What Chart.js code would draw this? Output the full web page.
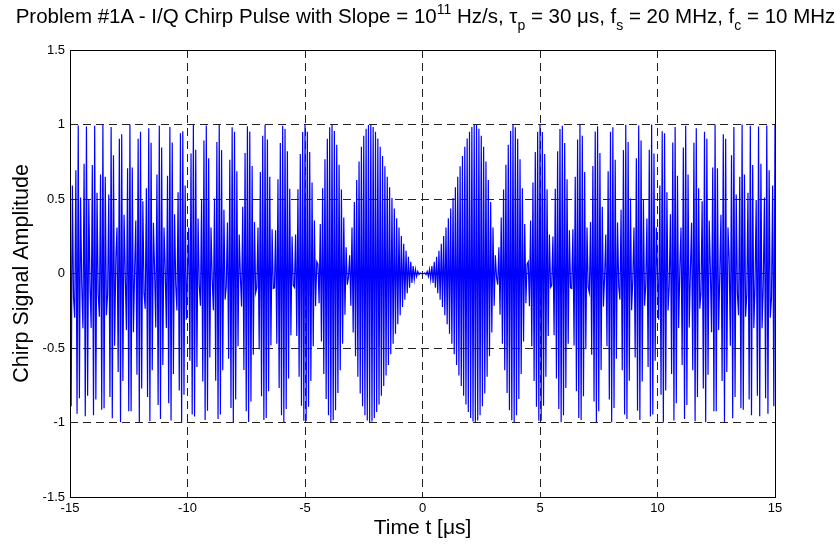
<!DOCTYPE html>
<html><head><meta charset="utf-8">
<script src="https://cdn.jsdelivr.net/npm/chart.js@4/dist/chart.umd.min.js"></script>
<style>
html,body{margin:0;padding:0;background:#fff;}
#wrap{position:relative;width:837px;height:544px;}
#title{position:absolute;left:0;top:4px;width:851px;text-align:center;font-family:'Liberation Sans',Arial,sans-serif;font-size:20.5px;line-height:24px;color:#000;white-space:nowrap;}
.sup{font-size:14px;position:relative;top:-9px;}
.sub{font-size:14px;position:relative;top:7px;}
</style></head><body>
<div id="wrap"><canvas id="c" width="837" height="544"></canvas>
<div id="title">Problem #1A - I/Q Chirp Pulse with Slope = 10<span class="sup">11</span> Hz/s, τ<span class="sub">p</span> = 30 μs, f<span class="sub">s</span> = 20 MHz, f<span class="sub">c</span> = 10 MHz</div>
</div>
<script>
// Chirp samples (I channel): 601 samples from -15 us to +15 us
const amplitude = [
1,-0.891,0.59,-0.163,-0.297,0.693,-0.942,0.993,-0.838,0.51,
-0.079,-0.367,0.737,-0.958,0.987,-0.82,0.493,-0.07,-0.365,0.728,
-0.951,0.992,-0.846,0.542,-0.138,-0.29,0.664,-0.915,1,-0.905,
0.649,-0.28,-0.138,0.53,-0.829,0.984,-0.972,0.794,-0.485,0.095,
0.309,-0.661,0.904,-0.999,0.934,-0.721,0.394,-0.007,-0.38,0.707,
-0.924,1,-0.925,0.712,-0.394,0.02,0.356,-0.68,0.904,-0.998,
0.951,-0.771,0.485,-0.132,-0.237,0.572,-0.829,0.974,-0.991,0.877,
-0.649,0.34,0.013,-0.362,0.664,-0.882,0.991,-0.977,0.846,-0.614,
0.309,0.031,-0.365,0.656,-0.87,0.984,-0.987,0.88,-0.675,0.398,
-0.079,-0.248,0.546,-0.786,0.942,-1,0.955,-0.813,0.59,-0.31,
0,0.308,-0.585,0.805,-0.947,1,-0.959,0.831,-0.628,0.369,
-0.079,-0.217,0.493,-0.724,0.893,-0.984,0.994,-0.921,0.773,-0.563,
0.309,-0.032,-0.246,0.503,-0.72,0.882,-0.977,0.998,-0.947,0.828,
-0.649,0.427,-0.175,-0.087,0.342,-0.572,0.763,-0.902,0.982,-0.998,
0.951,-0.845,0.687,-0.488,0.261,-0.02,-0.221,0.448,-0.647,0.809,
-0.924,0.988,-0.997,0.953,-0.859,0.721,-0.546,0.345,-0.129,-0.093,
0.309,-0.508,0.682,-0.823,0.925,-0.984,0.999,-0.97,0.9,-0.791,
0.649,-0.483,0.297,-0.101,-0.097,0.29,-0.471,0.632,-0.768,0.876,
-0.951,0.992,-0.998,0.97,-0.91,0.82,-0.705,0.568,-0.414,0.249,
-0.079,-0.093,0.261,-0.419,0.565,-0.693,0.802,-0.888,0.95,-0.988,
1,-0.988,0.952,-0.894,0.816,-0.721,0.61,-0.488,0.356,-0.219,
0.079,0.062,-0.2,0.332,-0.457,0.572,-0.675,0.766,-0.843,0.905,
-0.951,0.982,-0.998,0.998,-0.985,0.957,-0.917,0.864,-0.802,0.73,
-0.649,0.563,-0.471,0.375,-0.276,0.176,-0.075,-0.024,0.122,-0.217,
0.309,-0.396,0.479,-0.556,0.628,-0.693,0.752,-0.805,0.851,-0.891,
0.924,-0.951,0.972,-0.987,0.996,-1,0.999,-0.993,0.983,-0.969,
0.951,-0.93,0.906,-0.88,0.851,-0.82,0.788,-0.755,0.72,-0.685,
0.649,-0.614,0.578,-0.542,0.506,-0.471,0.437,-0.404,0.371,-0.34,
0.309,-0.28,0.252,-0.225,0.2,-0.176,0.153,-0.132,0.113,-0.095,
0.079,-0.064,0.05,-0.039,0.028,-0.02,0.013,-0.007,0.003,-0.001,
0,
-0.001,0.003,-0.007,0.013,-0.02,0.028,-0.039,0.05,-0.064,0.079,
-0.095,0.113,-0.132,0.153,-0.176,0.2,-0.225,0.252,-0.28,0.309,
-0.34,0.371,-0.404,0.437,-0.471,0.506,-0.542,0.578,-0.614,0.649,
-0.685,0.72,-0.755,0.788,-0.82,0.851,-0.88,0.906,-0.93,0.951,
-0.969,0.983,-0.993,0.999,-1,0.996,-0.987,0.972,-0.951,0.924,
-0.891,0.851,-0.805,0.752,-0.693,0.628,-0.556,0.479,-0.396,0.309,
-0.217,0.122,-0.024,-0.075,0.176,-0.276,0.375,-0.471,0.563,-0.649,
0.73,-0.802,0.864,-0.917,0.957,-0.985,0.998,-0.998,0.982,-0.951,
0.905,-0.843,0.766,-0.675,0.572,-0.457,0.332,-0.2,0.062,0.079,
-0.219,0.356,-0.488,0.61,-0.721,0.816,-0.894,0.952,-0.988,1,
-0.988,0.95,-0.888,0.802,-0.693,0.565,-0.419,0.261,-0.093,-0.079,
0.249,-0.414,0.568,-0.705,0.82,-0.91,0.97,-0.998,0.992,-0.951,
0.876,-0.768,0.632,-0.471,0.29,-0.097,-0.101,0.297,-0.483,0.649,
-0.791,0.9,-0.97,0.999,-0.984,0.925,-0.823,0.682,-0.508,0.309,
-0.093,-0.129,0.345,-0.546,0.721,-0.859,0.953,-0.997,0.988,-0.924,
0.809,-0.647,0.448,-0.221,-0.02,0.261,-0.488,0.687,-0.845,0.951,
-0.998,0.982,-0.902,0.763,-0.572,0.342,-0.087,-0.175,0.427,-0.649,
0.828,-0.947,0.998,-0.977,0.882,-0.72,0.503,-0.246,-0.032,0.309,
-0.563,0.773,-0.921,0.994,-0.984,0.893,-0.724,0.493,-0.217,-0.079,
0.369,-0.628,0.831,-0.959,1,-0.947,0.805,-0.585,0.308,0,
-0.31,0.59,-0.813,0.955,-1,0.942,-0.786,0.546,-0.248,-0.079,
0.398,-0.675,0.88,-0.987,0.984,-0.87,0.656,-0.365,0.031,0.309,
-0.614,0.846,-0.977,0.991,-0.882,0.664,-0.362,0.013,0.34,-0.649,
0.877,-0.991,0.974,-0.829,0.572,-0.237,-0.132,0.485,-0.771,0.951,
-0.998,0.904,-0.68,0.356,0.02,-0.394,0.712,-0.925,1,-0.924,
0.707,-0.38,-0.007,0.394,-0.721,0.934,-0.999,0.904,-0.661,0.309,
0.095,-0.485,0.794,-0.972,0.984,-0.829,0.53,-0.138,-0.28,0.649,
-0.905,1,-0.915,0.664,-0.29,-0.138,0.542,-0.846,0.992,-0.951,
0.728,-0.365,-0.07,0.493,-0.82,0.987,-0.958,0.737,-0.367,-0.079,
0.51,-0.838,0.993,-0.942,0.693,-0.297,-0.163,0.59,-0.891,1
];
const T_START_US = -15;          // pulse start time (us)
const SAMPLE_RATE_MHZ = 20;      // fs = 20 MHz -> 0.05 us per sample
const xTickValues = [-15, -10, -5, 0, 5, 10, 15];
const xTickLabels = ['-15', '-10', '-5', '0', '5', '10', '15'];
const yTickValues = [-1.5, -1, -0.5, 0, 0.5, 1, 1.5];
const yTickLabels = ['-1.5', '-1', '-0.5', '0', '0.5', '1', '1.5'];
const xAxisTitle = 'Time t [μs]';
const yAxisTitle = 'Chirp Signal Amplitude';

const points = amplitude.map((v, i) => ({ x: T_START_US + i / SAMPLE_RATE_MHZ, y: v }));

Chart.defaults.font.family = "'Liberation Sans', Arial, sans-serif";
Chart.defaults.color = '#000';

const boxPlugin = {
  id: 'box',
  afterDatasetsDraw(chart) {
    const { ctx, chartArea: a } = chart;
    ctx.save();
    ctx.strokeStyle = '#000';
    ctx.lineWidth = 1;
    ctx.setLineDash([]);
    ctx.strokeRect(Math.round(a.left) + 0.5, Math.round(a.top) + 0.5,
                   Math.round(a.right - a.left), Math.round(a.bottom - a.top));
    ctx.restore();
  }
};

const gridCommon = { color: '#222', lineWidth: 1, drawTicks: false };
const borderCommon = { display: false, dash: [8, 5] };

new Chart(document.getElementById('c'), {
  type: 'line',
  data: {
    datasets: [{
      data: points,
      borderColor: '#0000ff',
      borderWidth: 1.2,
      pointRadius: 0,
      tension: 0,
      fill: false
    }]
  },
  options: {
    responsive: false,
    animation: false,
    events: [],
    layout: { padding: { top: 50, right: 62, left: 0, bottom: 0 } },
    plugins: { legend: { display: false }, tooltip: { enabled: false }, title: { display: false } },
    scales: {
      x: {
        type: 'linear',
        min: -15, max: 15,
        afterFit(s) { s.height = 47; },
        afterBuildTicks(s) { s.ticks = xTickValues.map(v => ({ value: v })); },
        ticks: {
          autoSkip: false, maxRotation: 0, padding: 4,
          font: { size: 13 },
          callback: (v, i) => xTickLabels[i]
        },
        grid: gridCommon,
        border: borderCommon,
        title: { display: true, text: xAxisTitle, font: { size: 21 }, padding: { top: 0, bottom: 3 } }
      },
      y: {
        type: 'linear',
        min: -1.5, max: 1.5,
        afterFit(s) { s.width = 70; },
        afterBuildTicks(s) { s.ticks = yTickValues.map(v => ({ value: v })); },
        ticks: {
          autoSkip: false, padding: 5,
          font: { size: 13 },
          callback: (v, i) => yTickLabels[i]
        },
        grid: gridCommon,
        border: borderCommon,
        title: { display: true, text: yAxisTitle, font: { size: 21.5 }, padding: { top: 9, bottom: 0 } }
      }
    }
  },
  plugins: [boxPlugin]
});
</script>
</body></html>
